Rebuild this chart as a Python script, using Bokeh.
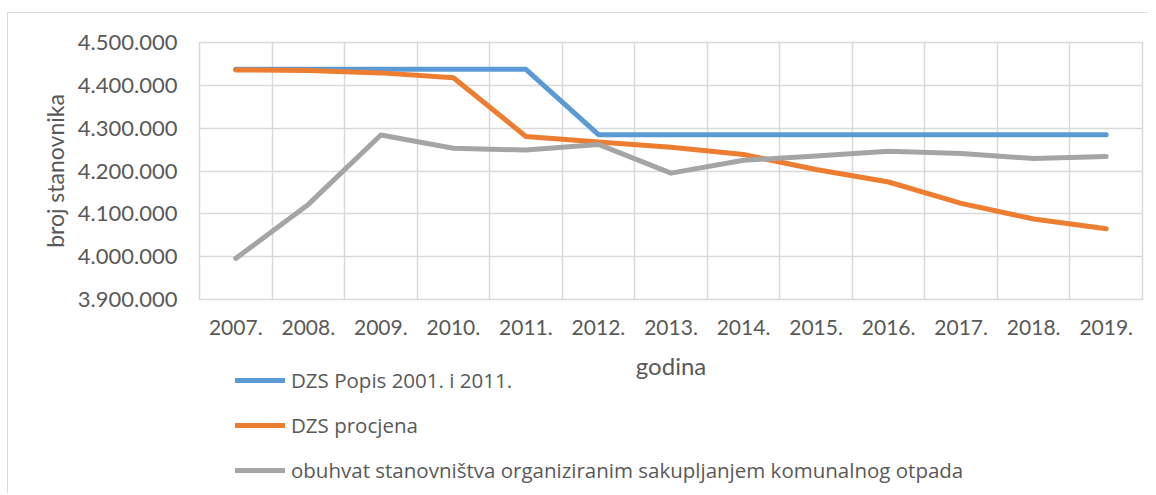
from bokeh.plotting import figure
from bokeh.layouts import column
from bokeh.models import (ColumnDataSource, FixedTicker, CustomJSTickFormatter,
                          Legend, LegendItem, Range1d, Label)
from bokeh.embed import file_html
from bokeh.resources import INLINE

years = [2007, 2008, 2009, 2010, 2011, 2012, 2013, 2014, 2015, 2016, 2017, 2018, 2019]
year_labels = ["2007.", "2008.", "2009.", "2010.", "2011.", "2012.", "2013.",
               "2014.", "2015.", "2016.", "2017.", "2018.", "2019."]
popis = [4437460, 4437460, 4437460, 4437460, 4437460, 4284889, 4284889,
         4284889, 4284889, 4284889, 4284889, 4284889, 4284889]
procjena = [4435982, 4434508, 4429078, 4417781, 4280622, 4267558, 4255689,
            4238389, 4203604, 4174349, 4124531, 4087843, 4065253]
obuhvat = [3996000, 4122000, 4284000, 4253000, 4249000, 4262000, 4195000,
           4225000, 4235000, 4246000, 4241000, 4229000, 4234000]
series_names = ["DZS Popis 2001. i 2011.", "DZS procjena",
                "obuhvat stanovništva organiziranim sakupljanjem komunalnog otpada"]
colors = ["#5B9BD5", "#ED7D31", "#A5A5A5"]
y_ticks = [3900000, 4000000, 4100000, 4200000, 4300000, 4400000, 4500000]
x_title = "godina"
y_title = "broj stanovnika"

FONT = "Lato"
LEG_FONT = "Open Sans"
TXT = "#595959"
GRID = "#D9D9D9"

src = ColumnDataSource(dict(x=years, popis=popis, procjena=procjena, obuhvat=obuhvat))
cols = ["popis", "procjena", "obuhvat"]

# ---------------- main chart ----------------
p = figure(width=1140, height=332, output_backend="svg", toolbar_location=None,
           x_range=Range1d(years[0] - 0.5, years[-1] + 0.5),
           y_range=Range1d(y_ticks[0], y_ticks[-1]),
           min_border_left=191, min_border_right=6, min_border_top=29,
           min_border_bottom=46)
p.outline_line_color = GRID
p.outline_line_width = 1.5
p.background_fill_color = "white"
p.border_fill_color = "white"

p.xaxis.ticker = FixedTicker(ticks=years)
p.xaxis.major_label_overrides = {y: l for y, l in zip(years, year_labels)}
p.yaxis.ticker = FixedTicker(ticks=y_ticks)
p.yaxis.formatter = CustomJSTickFormatter(
    code="return Math.round(tick).toString().replace(/\\B(?=(\\d{3})+(?!\\d))/g, '.');")
for ax in (p.xaxis, p.yaxis):
    ax.axis_line_color = None
    ax.major_tick_line_color = None
    ax.minor_tick_line_color = None
    ax.major_tick_in = 0
    ax.major_tick_out = 0
    ax.major_label_text_font = FONT
    ax.major_label_text_color = TXT
    ax.axis_label_text_font = FONT
    ax.axis_label_text_color = TXT
    ax.axis_label_text_font_style = "normal"
p.xaxis.major_label_text_font_size = "21px"
p.yaxis.major_label_text_font_size = "22px"
p.yaxis.axis_label = y_title
p.yaxis.axis_label_text_font_size = "23px"
p.xaxis.major_label_standoff = 20
p.yaxis.major_label_standoff = 22
p.yaxis.axis_label_standoff = 6

p.xgrid.ticker = FixedTicker(ticks=[y - 0.5 for y in years] + [years[-1] + 0.5])
p.ygrid.ticker = FixedTicker(ticks=y_ticks)
for g in (p.xgrid, p.ygrid):
    g.grid_line_color = GRID
    g.grid_line_width = 1.5

for col, c in zip(cols, colors):
    p.line("x", col, source=src, line_color=c, line_width=5,
           line_cap="round", line_join="round")

# ---------------- strip below: x-axis title + legend ----------------
LEG_H = 148
q = figure(width=1140, height=LEG_H, output_backend="svg", toolbar_location=None,
           x_range=Range1d(years[0] - 0.5, years[-1] + 0.5),
           y_range=Range1d(0, LEG_H),
           x_axis_location=None, y_axis_location=None,
           min_border_left=191, min_border_right=6, min_border_top=0,
           min_border_bottom=0)
q.outline_line_color = None
q.xgrid.visible = False
q.ygrid.visible = False
q.background_fill_color = "white"
q.border_fill_color = "white"

# same series (outside this strip's visible range) just to carry the legend glyphs
leg_renderers = []
for col, c in zip(cols, colors):
    leg_renderers.append(q.line("x", col, source=src, line_color=c, line_width=5,
                                line_cap="round", line_join="round"))

q.add_layout(Label(x=(years[0] + years[-1]) / 2, y=LEG_H - 20, text=x_title,
                   text_font=FONT, text_font_size="24px", text_color=TXT,
                   text_align="center", text_baseline="middle"))

legend = Legend(items=[LegendItem(label=n, renderers=[r])
                       for n, r in zip(series_names, leg_renderers)],
                location=(36, 9), orientation="vertical",
                glyph_width=50, glyph_height=20, label_height=20, spacing=17,
                label_standoff=6, padding=0, margin=0,
                label_text_font=LEG_FONT, label_text_font_size="20.5px",
                label_text_color=TXT, border_line_color=None,
                background_fill_alpha=0)
q.add_layout(legend, "center")

layout = column(p, q, spacing=0, margin=(12, 0, 0, 7),
                styles={"border-top": "1px solid #D9D9D9", "border-left": "1px solid #D9D9D9"})

open("out.html", "w").write(file_html(layout, INLINE))
